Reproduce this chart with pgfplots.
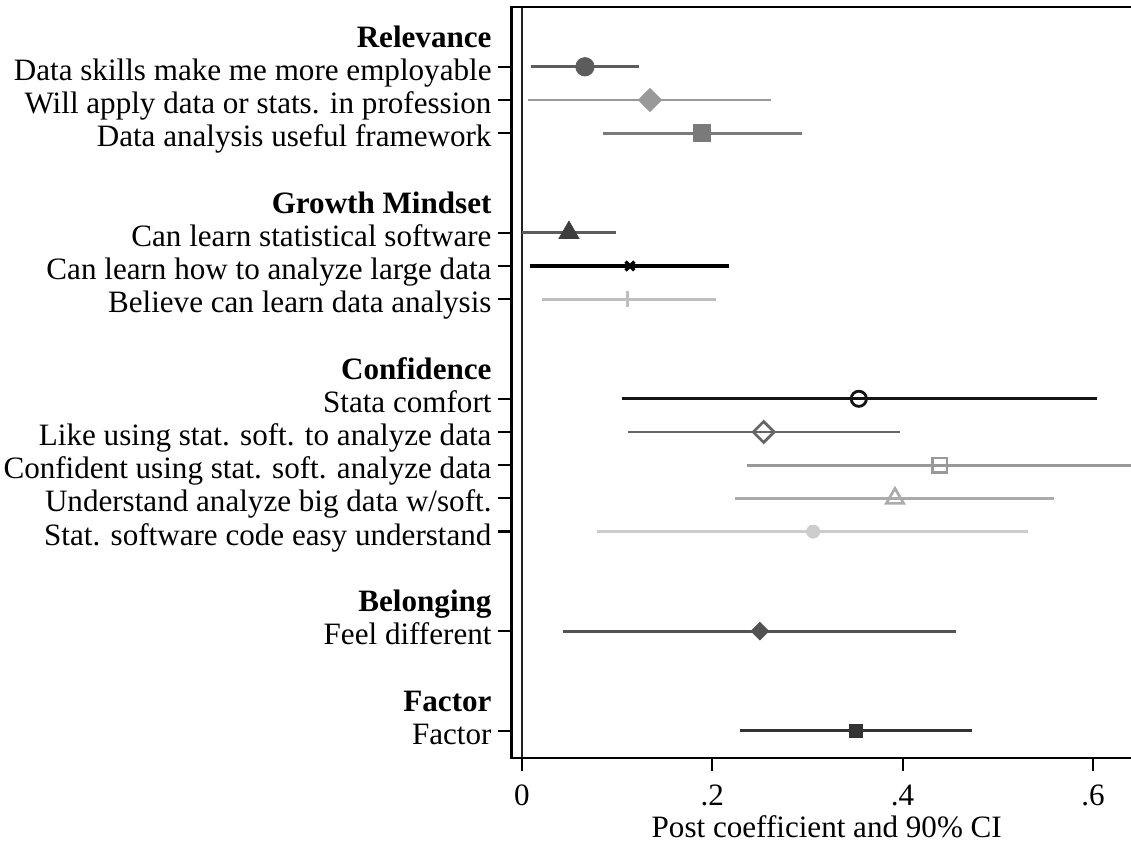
\documentclass[border=0pt]{standalone}
\usepackage{fontspec}
\setmainfont{Liberation Serif}
\usepackage{pgfplots}
\pgfplotsset{compat=1.18}
\definecolor{c1}{gray}{0.36}
\definecolor{c2}{gray}{0.60}
\definecolor{c3}{gray}{0.48}
\definecolor{c4m}{gray}{0.24}
\definecolor{c4}{gray}{0.36}
\definecolor{c5}{gray}{0.0}
\definecolor{c6}{gray}{0.75}
\definecolor{c7}{gray}{0.08}
\definecolor{c8}{gray}{0.40}
\definecolor{c9}{gray}{0.60}
\definecolor{c10}{gray}{0.67}
\definecolor{c11}{gray}{0.80}
\definecolor{c12}{gray}{0.32}
\definecolor{c13}{gray}{0.20}
\begin{document}
\fontsize{15.55pt}{18pt}\selectfont
\begin{tikzpicture}
\useasboundingbox (-255.75pt,-42pt) rectangle (309.75pt,379pt);
\begin{axis}[
  name=ax,
  at={(0,0)}, anchor=south west,
  scale only axis, width=309.75pt, height=375.5pt,
  xmin=-0.011, xmax=0.64, ymin=-0.8, ymax=21.82, y dir=reverse,
  axis line style={draw=none},
  clip mode=individual,
  xtick={0,0.2,0.4,0.6}, xticklabels={0,.2,.4,.6},
  ytick={1,2,3,6,7,8,11,12,13,14,15,18,21},
  yticklabels={Data skills make me more employable,
    Will apply data or stats. in profession,
    Data analysis useful framework,
    Can learn statistical software,
    Can learn how to analyze large data,
    Believe can learn data analysis,
    Stata comfort,
    Like using stat. soft. to analyze data,
    Confident using stat. soft. analyze data,
    Understand analyze big data w/soft.,
    Stat. software code easy understand,
    Feel different,
    Factor},
  tick align=outside, xtick pos=bottom, ytick pos=left,
  major tick length=6.5pt,
  tick style={black, line width=1.1pt},
  yticklabel style={anchor=base east, inner sep=0pt, xshift=-3.3pt, yshift=-6.75pt},
  xticklabel style={anchor=base, inner sep=0pt, yshift=-17pt},
  xlabel={Post coefficient and 90\% CI},
  xlabel style={at={(axis description cs:0.5,0)}, anchor=base, inner sep=0pt, yshift=-39.5pt, xshift=2.75pt},
]
% zero reference line
\addplot[gray!25!black, line width=1pt] coordinates {(0,-0.8) (0,21.82)};
% Relevance
\addplot[c1, line width=1.35pt] coordinates {(0.0095,1) (0.123,1)};
\addplot[only marks, mark=*, mark size=4.6pt, c1] coordinates {(0.0662,1)};
\addplot[c2, line width=1.35pt] coordinates {(0.0063,2) (0.2617,2)};
\addplot[only marks, mark=square*, mark size=4.1pt, mark options={rotate=45}, c2] coordinates {(0.1345,2)};
\addplot[c3, line width=1.35pt] coordinates {(0.085,3) (0.294,3)};
\addplot[only marks, mark=square*, mark size=4.3pt, c3] coordinates {(0.189,3)};
% Growth Mindset
\addplot[c4, line width=1.35pt] coordinates {(0.0,6) (0.0988,6)};
\addplot[only marks, mark=triangle*, mark size=5.8pt, c4m] coordinates {(0.0494,6)};
\addplot[c5, line width=1.6pt] coordinates {(0.0084,7) (0.2175,7)};
\addplot[only marks, mark=x, mark size=3.1pt, mark options={line width=1.7pt}, c5] coordinates {(0.1135,7)};
\addplot[c6, line width=1.35pt] coordinates {(0.021,8) (0.204,8)};
\addplot[only marks, mark=+, mark size=4pt, mark options={line width=1.1pt}, c6] coordinates {(0.111,8)};
% Confidence
\addplot[c7, line width=1.5pt] coordinates {(0.105,11) (0.604,11)};
\addplot[only marks, mark=o, mark size=3.8pt, mark options={line width=1.4pt, fill=white}, c7] coordinates {(0.354,11)};
\addplot[c8, line width=1.35pt] coordinates {(0.111,12) (0.397,12)};
\addplot[only marks, mark=square, mark size=3.7pt, mark options={rotate=45, line width=1.35pt, fill=white}, c8] coordinates {(0.254,12)};
\addplot[c9, line width=1.35pt] coordinates {(0.236,13) (0.645,13)};
\addplot[only marks, mark=square, mark size=3.6pt, mark options={line width=1.35pt, fill=white}, c9] coordinates {(0.439,13)};
\addplot[c10, line width=1.35pt] coordinates {(0.224,14) (0.559,14)};
\addplot[only marks, mark=triangle, mark size=5pt, mark options={line width=1.35pt, fill=white}, c10] coordinates {(0.392,14)};
\addplot[c11, line width=1.35pt] coordinates {(0.079,15) (0.532,15)};
\addplot[only marks, mark=*, mark size=3.3pt, c11] coordinates {(0.306,15)};
% Belonging
\addplot[c12, line width=1.35pt] coordinates {(0.043,18) (0.456,18)};
\addplot[only marks, mark=square*, mark size=3.1pt, mark options={rotate=45}, c12] coordinates {(0.250,18)};
% Factor
\addplot[c13, line width=1.35pt] coordinates {(0.229,21) (0.473,21)};
\addplot[only marks, mark=square*, mark size=3.4pt, c13] coordinates {(0.351,21)};
% group headings
\node[anchor=base east, inner sep=0pt, xshift=-9.8pt, yshift=-6.75pt, font=\bfseries] at (axis cs:-0.011,0) {Relevance};
\node[anchor=base east, inner sep=0pt, xshift=-9.8pt, yshift=-6.75pt, font=\bfseries] at (axis cs:-0.011,5) {Growth Mindset};
\node[anchor=base east, inner sep=0pt, xshift=-9.8pt, yshift=-6.75pt, font=\bfseries] at (axis cs:-0.011,10) {Confidence};
\node[anchor=base east, inner sep=0pt, xshift=-9.8pt, yshift=-6.75pt, font=\bfseries] at (axis cs:-0.011,17) {Belonging};
\node[anchor=base east, inner sep=0pt, xshift=-9.8pt, yshift=-6.75pt, font=\bfseries] at (axis cs:-0.011,20) {Factor};
\end{axis}
\draw[black, line width=1.25pt, line cap=rect] (ax.north east) -- (ax.north west) -- (ax.south west) -- (ax.south east);
\end{tikzpicture}
\end{document}
